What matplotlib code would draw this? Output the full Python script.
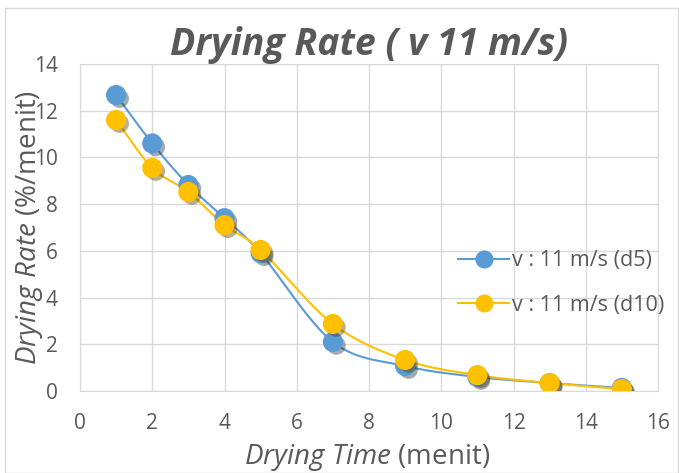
import matplotlib.pyplot as plt
import matplotlib.patheffects as pe
import numpy as np
from matplotlib.patches import Rectangle

time = [1, 2, 3, 4, 5, 7, 9, 11, 13, 15]
rate_d5 = [12.67, 10.6, 8.82, 7.4, 5.9, 2.1, 1.07, 0.6, 0.34, 0.13]
rate_d10 = [11.6, 9.55, 8.52, 7.1, 6.04, 2.87, 1.33, 0.68, 0.34, 0.08]
labels = ['v : 11 m/s (d5)', 'v : 11 m/s (d10)']
colors = ['#5B9BD5', '#FFC000']

plt.rcParams['font.family'] = ['Open Sans', 'DejaVu Sans']
plt.rcParams['mathtext.fontset'] = 'custom'
plt.rcParams['mathtext.rm'] = 'Open Sans'
plt.rcParams['mathtext.it'] = 'Open Sans:italic'


def smooth(x, y, n=30):
    # catmull-rom style smoothing, like Excel's smoothed line
    x = np.asarray(x, float)
    y = np.asarray(y, float)
    px = np.concatenate([[2 * x[0] - x[1]], x, [2 * x[-1] - x[-2]]])
    py = np.concatenate([[2 * y[0] - y[1]], y, [2 * y[-1] - y[-2]]])
    xs, ys = [], []
    t = np.linspace(0, 1, n)
    for i in range(1, len(px) - 2):
        p0, p1, p2, p3 = px[i - 1], px[i], px[i + 1], px[i + 2]
        q0, q1, q2, q3 = py[i - 1], py[i], py[i + 1], py[i + 2]
        bx = [p1, p1 + (p2 - p0) / 6, p2 - (p3 - p1) / 6, p2]
        by = [q1, q1 + (q2 - q0) / 6, q2 - (q3 - q1) / 6, q2]
        b = [(1 - t) ** 3, 3 * (1 - t) ** 2 * t, 3 * (1 - t) * t ** 2, t ** 3]
        xs.append(sum(bi * c for bi, c in zip(b, bx)))
        ys.append(sum(bi * c for bi, c in zip(b, by)))
    return np.concatenate(xs), np.concatenate(ys)


fig = plt.figure(figsize=(6.79, 4.73), dpi=100)
fig.patches.append(Rectangle((0.008, 0.0), 0.99, 0.983, transform=fig.transFigure,
                             fill=False, edgecolor='#D9D9D9', lw=1))
ax = fig.add_axes([80 / 679, 1 - 391 / 473, 578 / 679, 327 / 473])

shadow = [pe.SimplePatchShadow(offset=(2.5, -2.5), alpha=0.4), pe.Normal()]
for ys, lab, col in zip([rate_d5, rate_d10], labels, colors):
    sx, sy = smooth(time, ys)
    ax.plot(sx, sy, color=col, lw=1.5, zorder=2)
    ax.plot(time, ys, 'o', color=col, ms=13.5, zorder=3, path_effects=shadow)
    ax.plot([], [], '-o', color=col, ms=12, lw=1.5, label=lab)

ax.set_xlim(0, 16)
ax.set_ylim(0, 14)
ax.set_xticks(range(0, 17, 2))
ax.set_yticks(range(0, 15, 2))
ax.grid(True, color='#D9D9D9', lw=1)
ax.set_axisbelow(True)
for s in ax.spines.values():
    s.set_color('#D9D9D9')
ax.tick_params(length=0, colors='#595959', labelsize=15)
ax.tick_params(axis='y', pad=16)
ax.tick_params(axis='x', pad=16)

ax.set_title('Drying Rate ( v 11 m/s)', fontsize=27, fontweight='bold',
             fontstyle='italic', color='#595959', pad=0)
ax.set_xlabel(r'$\it{Drying\ Time}$ (menit)', fontsize=20, color='#595959')
ax.set_ylabel(r'$\it{Drying\ Rate}$ (%/menit)', fontsize=20, color='#595959')
ax.xaxis.set_label_coords(0.497, -0.155)
ax.yaxis.set_label_coords(-0.06, 0.5)

ax.legend(loc='center left', bbox_to_anchor=(0.62, 0.33), frameon=False,
          fontsize=15.5, labelcolor='#595959', handlelength=2.4, handletextpad=0.1,
          labelspacing=1.1)

fig.savefig('out.png', dpi=100)
